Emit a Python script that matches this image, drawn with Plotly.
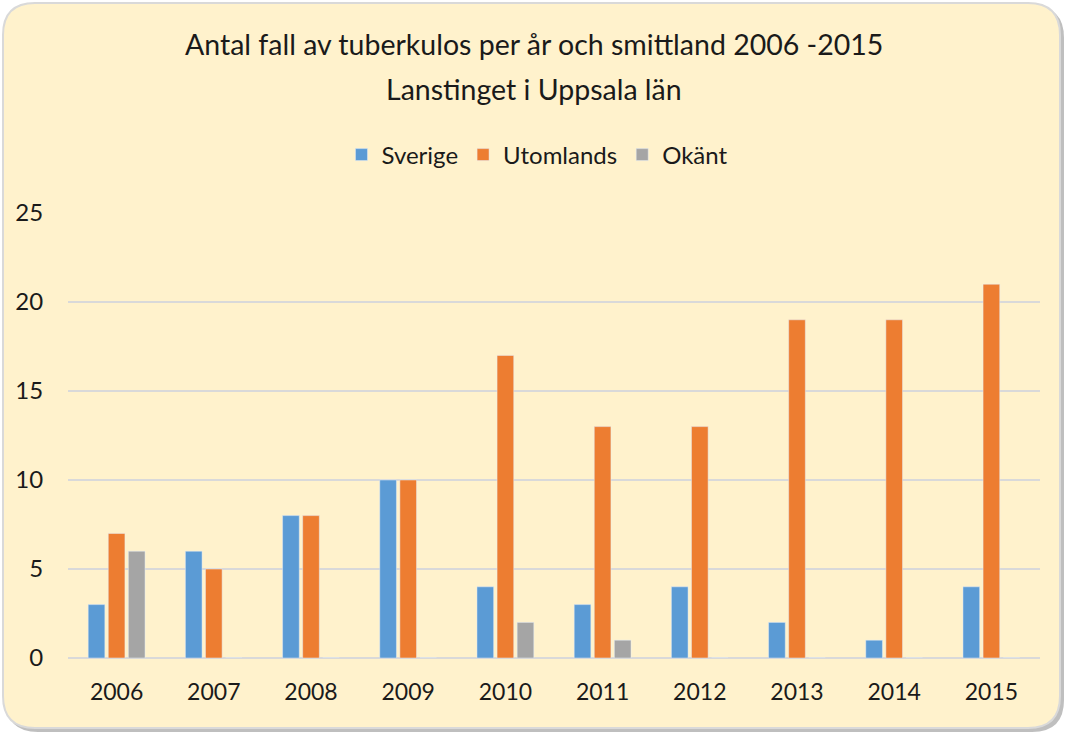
import plotly.graph_objects as go

# data
years = ["2006", "2007", "2008", "2009", "2010", "2011", "2012", "2013", "2014", "2015"]
sverige = [3, 6, 8, 10, 4, 3, 4, 2, 1, 4]
utomlands = [7, 5, 8, 10, 17, 13, 13, 19, 19, 21]
okant = [6, 0, 0, 0, 2, 1, 0, 0, 0, 0]

W, H = 1066, 734
ML, MR, MT, MB = 68, 26, 213, 76
pw = W - ML - MR
ph = H - MT - MB


def px(x, y):
    # pixel -> paper coords
    return (x - ML) / pw, (H - MB - y) / ph


def rounded_box(x0, y0, x1, y1, r):
    pts = []
    a = px(x0 + r, y0); pts.append("M%f,%f" % a)
    b = px(x1 - r, y0); pts.append("L%f,%f" % b)
    c = px(x1, y0); d = px(x1, y0 + r); pts.append("Q%f,%f %f,%f" % (c + d))
    e = px(x1, y1 - r); pts.append("L%f,%f" % e)
    f = px(x1, y1); g = px(x1 - r, y1); pts.append("Q%f,%f %f,%f" % (f + g))
    h = px(x0 + r, y1); pts.append("L%f,%f" % h)
    i = px(x0, y1); j = px(x0, y1 - r); pts.append("Q%f,%f %f,%f" % (i + j))
    k = px(x0, y0 + r); pts.append("L%f,%f" % k)
    l = px(x0, y0); m = px(x0 + r, y0); pts.append("Q%f,%f %f,%f" % (l + m))
    return " ".join(pts) + " Z"


fig = go.Figure()
fig.add_trace(go.Bar(x=years, y=sverige, name="Sverige", marker_color="#5B9BD5"))
fig.add_trace(go.Bar(x=years, y=utomlands, name="Utomlands", marker_color="#ED7D31"))
fig.add_trace(go.Bar(x=years, y=okant, name="Okänt", marker_color="#A5A5A5"))

fnt = "Lato, Open Sans, sans-serif"

fig.update_layout(
    width=W, height=H,
    margin=dict(l=ML, r=MR, t=MT, b=MB),
    paper_bgcolor="white",
    plot_bgcolor="rgba(0,0,0,0)",
    font=dict(family=fnt, size=20, color="#1a1a1a"),
    barmode="group",
    bargap=0.38,
    bargroupgap=0.17,
    showlegend=True,
    legend=dict(orientation="h", x=0.483, xanchor="center", y=px(0, 155)[1],
                yanchor="middle", font=dict(size=24), itemwidth=30,
                bgcolor="rgba(0,0,0,0)"),
    shapes=[
        dict(type="path", xref="paper", yref="paper", layer="below",
             path=rounded_box(6, 6, 1064, 732, 32),
             fillcolor="#BFBFBF", line=dict(width=0)),
        dict(type="path", xref="paper", yref="paper", layer="below",
             path=rounded_box(3, 3, 1060, 728, 32),
             fillcolor="#FFF2CC", line=dict(color="#D9D9D9", width=2)),
    ],
    annotations=[
        dict(text="Antal fall av tuberkulos per år och smittland 2006 -2015",
             xref="paper", yref="paper", x=px(534, 0)[0], y=px(0, 44)[1],
             showarrow=False, font=dict(size=28.5), xanchor="center", yanchor="middle"),
        dict(text="Lanstinget i Uppsala län",
             xref="paper", yref="paper", x=px(534, 0)[0], y=px(0, 89)[1],
             showarrow=False, font=dict(size=28.5), xanchor="center", yanchor="middle"),
    ],
)

fig.update_yaxes(range=[0, 25], dtick=5, showgrid=True, gridcolor="#D9D9D9",
                 gridwidth=1.5, zeroline=True, zerolinecolor="#D9D9D9",
                 zerolinewidth=1.5, showline=False, ticks="outside",
                 ticklen=19, tickcolor="rgba(0,0,0,0)", tickfont=dict(size=24))
fig.update_xaxes(showline=False, ticks="outside", ticklen=13,
                 tickcolor="rgba(0,0,0,0)", tickfont=dict(size=23))

fig.write_html("out.html", config={"displayModeBar": False},
               post_script="document.body.style.margin='0';")
